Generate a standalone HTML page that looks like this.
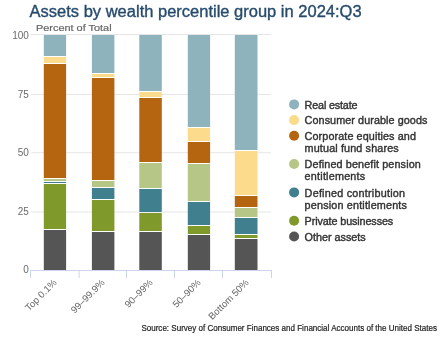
<!DOCTYPE html>
<html><head><meta charset="utf-8"><style>
html,body{margin:0;padding:0;background:#fff;width:447px;height:339px;overflow:hidden}
svg{display:block;will-change:transform}
text{font-family:"Liberation Sans",sans-serif}
.title{font-size:15.6px;fill:#274b6d;stroke:#274b6d;stroke-width:0.35px}
.ytitle{font-size:9.8px;fill:#666;stroke:#666;stroke-width:0.2px}
.yl{font-size:10px;fill:#6a6a6a}
.xl{font-size:9.6px;fill:#666}
.lg{font-size:10.8px;fill:#333;stroke:#333;stroke-width:0.4px}
.src{font-size:8.4px;fill:#222;stroke:#222;stroke-width:0.2px}
</style></head><body>
<svg width="447" height="339" viewBox="0 0 447 339">
<rect x="31" y="34" width="240" height="1" fill="#e6e6e6"/>
<rect x="31" y="94" width="240" height="1" fill="#e6e6e6"/>
<rect x="31" y="152.2" width="240" height="1" fill="#e6e6e6"/>
<rect x="31" y="211.5" width="240" height="1" fill="#e6e6e6"/>
<rect x="43.8" y="35" width="22.3" height="21" fill="#8fb3bd"/>
<rect x="43.8" y="57" width="22.3" height="6" fill="#fcdc8c"/>
<rect x="43.8" y="64" width="22.3" height="114" fill="#b5650f"/>
<rect x="43.8" y="179" width="22.3" height="2" fill="#b6c687"/>
<rect x="43.8" y="182" width="22.3" height="1" fill="#3f7f8e"/>
<rect x="43.8" y="184" width="22.3" height="45" fill="#7f9a2b"/>
<rect x="43.8" y="230" width="22.3" height="40" fill="#555555"/>
<rect x="91.9" y="35" width="22.5" height="38" fill="#8fb3bd"/>
<rect x="91.9" y="74" width="22.5" height="3" fill="#fcdc8c"/>
<rect x="91.9" y="78" width="22.5" height="102" fill="#b5650f"/>
<rect x="91.9" y="181" width="22.5" height="6" fill="#b6c687"/>
<rect x="91.9" y="188" width="22.5" height="11" fill="#3f7f8e"/>
<rect x="91.9" y="200" width="22.5" height="31" fill="#7f9a2b"/>
<rect x="91.9" y="232" width="22.5" height="38" fill="#555555"/>
<rect x="139.3" y="35" width="22.5" height="56" fill="#8fb3bd"/>
<rect x="139.3" y="92" width="22.5" height="5" fill="#fcdc8c"/>
<rect x="139.3" y="98" width="22.5" height="64" fill="#b5650f"/>
<rect x="139.3" y="163" width="22.5" height="25" fill="#b6c687"/>
<rect x="139.3" y="189" width="22.5" height="23" fill="#3f7f8e"/>
<rect x="139.3" y="213" width="22.5" height="18" fill="#7f9a2b"/>
<rect x="139.3" y="232" width="22.5" height="38" fill="#555555"/>
<rect x="187.8" y="35" width="22.3" height="92" fill="#8fb3bd"/>
<rect x="187.8" y="128" width="22.3" height="13" fill="#fcdc8c"/>
<rect x="187.8" y="142" width="22.3" height="21" fill="#b5650f"/>
<rect x="187.8" y="164" width="22.3" height="37" fill="#b6c687"/>
<rect x="187.8" y="202" width="22.3" height="23" fill="#3f7f8e"/>
<rect x="187.8" y="226" width="22.3" height="8" fill="#7f9a2b"/>
<rect x="187.8" y="235" width="22.3" height="35" fill="#555555"/>
<rect x="234.8" y="35" width="22.7" height="115" fill="#8fb3bd"/>
<rect x="234.8" y="151" width="22.7" height="44" fill="#fcdc8c"/>
<rect x="234.8" y="196" width="22.7" height="11" fill="#b5650f"/>
<rect x="234.8" y="208" width="22.7" height="9" fill="#b6c687"/>
<rect x="234.8" y="218" width="22.7" height="16" fill="#3f7f8e"/>
<rect x="234.8" y="235" width="22.7" height="3" fill="#7f9a2b"/>
<rect x="234.8" y="239" width="22.7" height="31" fill="#555555"/>
<rect x="30" y="270" width="242" height="1" fill="#ccd6eb"/>
<rect x="30" y="270" width="1" height="8" fill="#ccd6eb"/>
<rect x="78.6" y="270" width="1" height="8" fill="#ccd6eb"/>
<rect x="126" y="270" width="1" height="8" fill="#ccd6eb"/>
<rect x="174" y="270" width="1" height="8" fill="#ccd6eb"/>
<rect x="222" y="270" width="1" height="8" fill="#ccd6eb"/>
<rect x="271" y="270" width="1" height="8" fill="#ccd6eb"/>
<text x="28.9" y="38.75" text-anchor="end" class="yl">100</text>
<text x="28.9" y="98" text-anchor="end" class="yl">75</text>
<text x="28.9" y="156" text-anchor="end" class="yl">50</text>
<text x="28.9" y="215" text-anchor="end" class="yl">25</text>
<text x="28.9" y="273" text-anchor="end" class="yl">0</text>
<text x="57.3" y="283.3" text-anchor="end" transform="rotate(-45 57.3 283.3)" class="xl">Top 0.1%</text>
<text x="105.3" y="283.3" text-anchor="end" transform="rotate(-45 105.3 283.3)" class="xl">99–99.9%</text>
<text x="153.3" y="283.3" text-anchor="end" transform="rotate(-45 153.3 283.3)" class="xl">90–99%</text>
<text x="201.3" y="283.3" text-anchor="end" transform="rotate(-45 201.3 283.3)" class="xl">50–90%</text>
<text x="249.3" y="283.3" text-anchor="end" transform="rotate(-45 249.3 283.3)" class="xl">Bottom 50%</text>
<text x="29.6" y="16.9" class="title" textLength="332" lengthAdjust="spacingAndGlyphs">Assets by wealth percentile group in 2024:Q3</text>
<text x="36" y="30.5" class="ytitle" textLength="75.6" lengthAdjust="spacingAndGlyphs">Percent of Total</text>
<circle cx="294.1" cy="104.4" r="5" fill="#8fb3bd"/>
<text x="304.6" y="108.5" class="lg" textLength="52.9" lengthAdjust="spacing">Real estate</text>
<circle cx="294.1" cy="120.1" r="5" fill="#fcdc8c"/>
<text x="304.6" y="124.2" class="lg" textLength="122.80000000000001" lengthAdjust="spacing">Consumer durable goods</text>
<circle cx="294.1" cy="135.8" r="5" fill="#b5650f"/>
<text x="304.6" y="139.9" class="lg" textLength="111.30000000000001" lengthAdjust="spacing">Corporate equities and</text>
<text x="304.6" y="152.2" class="lg" textLength="94.10000000000001" lengthAdjust="spacing">mutual fund shares</text>
<circle cx="294.1" cy="164" r="5" fill="#b6c687"/>
<text x="304.6" y="168.1" class="lg" textLength="116.2" lengthAdjust="spacing">Defined benefit pension</text>
<text x="304.6" y="180.4" class="lg" textLength="60.6" lengthAdjust="spacing">entitlements</text>
<circle cx="294.1" cy="192.4" r="5" fill="#3f7f8e"/>
<text x="304.6" y="196.5" class="lg" textLength="100.5" lengthAdjust="spacing">Defined contribution</text>
<text x="304.6" y="208.8" class="lg" textLength="102.30000000000001" lengthAdjust="spacing">pension entitlements</text>
<circle cx="294.1" cy="220.8" r="5" fill="#7f9a2b"/>
<text x="304.6" y="224.9" class="lg" textLength="88.60000000000001" lengthAdjust="spacing">Private businesses</text>
<circle cx="294.1" cy="236.5" r="5" fill="#555555"/>
<text x="304.6" y="240.6" class="lg" textLength="61.1" lengthAdjust="spacing">Other assets</text>
<text x="141.4" y="330.8" class="src" textLength="295.6" lengthAdjust="spacingAndGlyphs">Source: Survey of Consumer Finances and Financial Accounts of the United States</text>
</svg>
</body></html>
